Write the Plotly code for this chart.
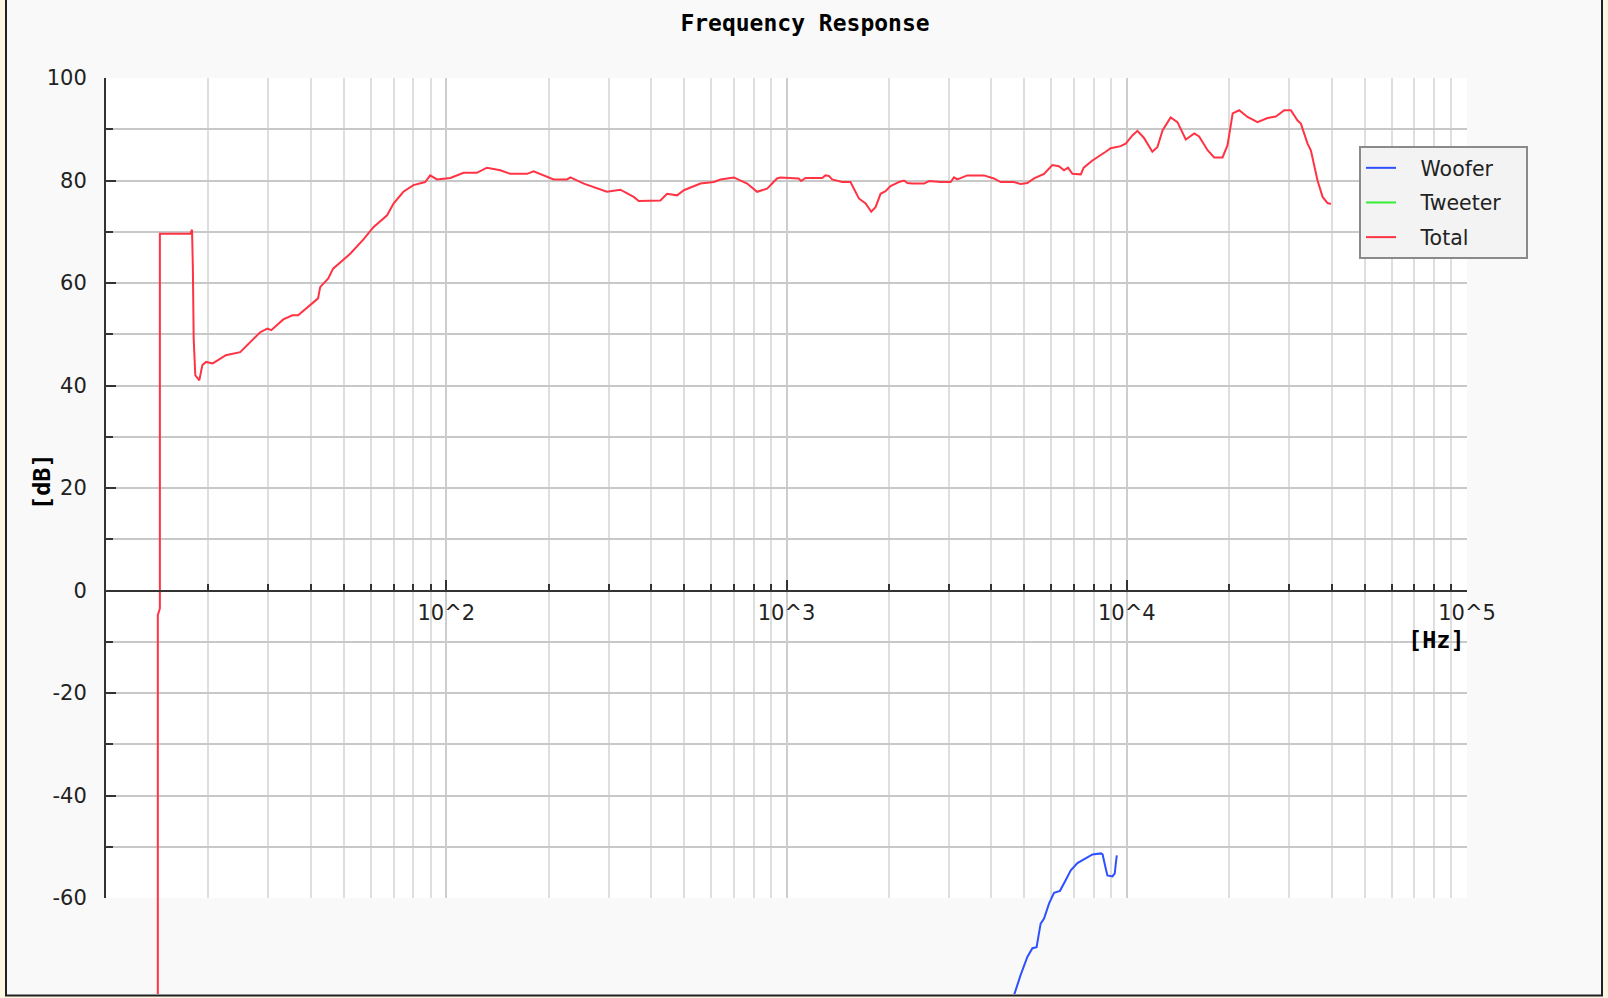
import plotly.graph_objects as go

# ---------------- data ----------------
title_text = "Frequency Response"
series_names = ["Woofer", "Tweeter", "Total"]
series_colors = ["#2f50ff", "#33ee33", "#ff3344"]

total_hz = [14.2, 14.2, 14.4, 14.4, 17.7, 17.9, 18.0, 18.1, 18.3, 18.8, 19.2, 19.7,
            20.6, 22.5, 24.8, 26.5, 28.4, 29.8, 30.6, 33.2, 35.3, 36.7, 39.3, 42.0,
            42.6, 45.0, 46.5, 52.2, 57.1, 61.1, 67.0, 70.0, 74.8, 80.1, 86.7, 89.7,
            93.9, 102.8, 112.5, 123, 131.7, 144.2, 154.3, 172.7, 180.6, 197.7, 206.9,
            226.5, 231.6, 253.7, 271.2, 296.6, 324.8, 355.6, 367.9, 425.9, 445.7,
            477.1, 499.2, 558.6, 611.4, 639.9, 700.3, 766.2, 819.5, 877, 938, 959,
            1086, 1104, 1137, 1273, 1302, 1332, 1362, 1457, 1542, 1632, 1708, 1774,
            1827, 1890, 1954, 2022, 2093, 2140, 2215, 2266, 2344, 2537, 2625, 2840,
            3037, 3106, 3177, 3399, 3805, 4070, 4260, 4662, 4879, 5103, 5339, 5714,
            6043, 6318, 6541, 6719, 6922, 7329, 7472, 7929, 8673, 8969, 9594, 9929,
            10390, 10750, 11240, 11890, 12300, 12750, 13460, 14090, 14910, 15790,
            16320, 17280, 18070, 19120, 19780, 20480, 21400, 22640, 24230, 25920,
            27430, 29040, 30360, 31770, 32490, 33990, 34760, 36370, 37630, 38930,
            39810]
total_db = [-100, -4.8, -3.5, 69.6, 69.6, 70.4, 63.1, 49.2, 42.0, 41.0, 44.0, 44.6,
            44.3, 45.9, 46.5, 48.5, 50.4, 51.1, 50.8, 52.9, 53.7, 53.7, 55.3, 57.0,
            59.2, 60.9, 62.8, 65.7, 68.5, 70.9, 73.2, 75.5, 77.8, 79.1, 79.7, 81.0,
            80.2, 80.5, 81.5, 81.5, 82.5, 82.0, 81.3, 81.3, 81.8, 80.7, 80.2,
            80.2, 80.6, 79.4, 78.7, 77.8, 78.2, 76.8, 76.0, 76.1, 77.4,
            77.1, 78.1, 79.4, 79.7, 80.2, 80.6, 79.4, 77.8, 78.4, 80.4, 80.6,
            80.4, 79.9, 80.5, 80.5, 81.0, 80.9, 80.2, 79.7, 79.7, 76.5, 75.5, 73.9,
            74.8, 77.4, 77.9, 78.9, 79.4, 79.7, 80.0, 79.5, 79.4, 79.4, 79.9, 79.7,
            79.7, 80.6, 80.2, 81.0, 81.0, 80.4, 79.7, 79.7, 79.3, 79.5, 80.4, 81.3,
            83.0, 82.8, 82.0, 82.5, 81.3, 81.2, 82.5, 83.9, 85.6, 86.3, 86.7, 87.2,
            88.8, 89.7, 88.3, 85.6, 86.5, 89.8, 92.3, 91.4, 88.0, 89.2,
            88.6, 85.9, 84.5, 84.5, 86.9, 93.1, 93.7, 92.4, 91.4, 92.2,
            92.5, 93.7, 93.7, 91.7, 91.1, 87.2, 85.9, 80.0, 76.8, 75.6,
            75.4]

woofer_hz = [4560, 4662, 4872, 5103, 5281, 5433, 5520, 5584, 5714, 5909, 6113, 6364,
             6619, 6847, 7163, 7579, 7929, 8398, 8492, 8678, 8774, 9080, 9222, 9285,
             9349]
woofer_db = [-82, -79, -75.1, -71.5, -69.8, -69.6, -66.9, -65.0, -64.0, -61.1, -59.0,
             -58.6, -56.5, -54.6, -53.2, -52.2, -51.5, -51.3, -51.5, -54.3, -55.6,
             -55.8, -55.2, -53.3, -51.7]

# the Tweeter series has no visible points in the chart
tweeter_hz = [None]
tweeter_db = [None]

x_tick_vals = [10, 100, 1000, 10000, 100000]
x_tick_text = ["", "10^2", "10^3", "10^4", "10^5"]
x_minor_mult = [2, 3, 4, 5, 6, 7, 8, 9]
x_decades = [10, 100, 1000, 10000]
y_major_vals = [-60, -40, -20, 0, 20, 40, 60, 80, 100]
y_minor_vals = [-50, -30, -10, 10, 30, 50, 70, 90]
y_tick_text = [str(v) for v in y_major_vals]
x_label = "[Hz]"
y_label = "[dB]"

# ---------------- layout geometry ----------------
W, H = 1608, 998
ML, MR, MT, MB = 106, 141, 78, 4
plot_w = W - ML - MR
plot_h = H - MT - MB
canvas_top, canvas_bottom = 100, -60
px_per_db = 820 / 160.0
y_min = canvas_top - plot_h / px_per_db
y_max = canvas_top
canvas_frac = (canvas_bottom - y_min) / (y_max - y_min)


def px_to_paper_x(px):
    return (px - ML) / plot_w


def px_to_paper_y(py):
    return (H - MB - py) / plot_h


x_minor_vals = [m * d for d in x_decades for m in x_minor_mult]

fig = go.Figure()
# grid subplot (xy) - holds only the grid / y axis
fig.add_trace(go.Scatter(x=[None], y=[None], xaxis="x", yaxis="y",
                         showlegend=False, hoverinfo="skip"))
traces = [(woofer_hz, woofer_db), (tweeter_hz, tweeter_db), (total_hz, total_db)]
for (xs, ys), name, col in zip(traces, series_names, series_colors):
    fig.add_trace(go.Scatter(
        x=xs, y=ys, mode="lines",
        name="\u00a0\u00a0\u00a0" + name + "\u00a0\u00a0\u00a0",
        legendgroup=name, xaxis="x2", yaxis="y2",
        line=dict(color=col, width=2), hoverinfo="skip"))

tick_font = dict(family="DejaVu Sans", size=21, color="#222222")
mono_bold = dict(family="DejaVu Sans Mono", size=23.5, color="#000000", weight="bold")

fig.update_layout(
    width=W, height=H, autosize=False,
    margin=dict(l=ML, r=MR, t=MT, b=MB, pad=0, autoexpand=False),
    paper_bgcolor="#fdf5e1",
    plot_bgcolor="rgba(0,0,0,0)",
    showlegend=True,
    title=dict(text=title_text, x=805 / W, xref="container", xanchor="center",
               y=1 - 23 / H, yref="container", yanchor="middle",
               font=dict(family="DejaVu Sans Mono", size=23, color="#000000",
                         weight="bold")),
    xaxis=dict(
        type="log", range=[1, 5], domain=[0, 1], anchor="y",
        showline=False, ticks="", showticklabels=False,
        tickvals=x_tick_vals,
        showgrid=True, gridcolor="#cdcdcd", gridwidth=2,
        minor=dict(tickvals=x_minor_vals, ticks="", showgrid=True,
                   gridcolor="#dedede", gridwidth=2),
        zeroline=False, fixedrange=True),
    yaxis=dict(
        range=[canvas_bottom, canvas_top], domain=[canvas_frac, 1], anchor="x",
        showline=True, linecolor="#333333", linewidth=2, zeroline=False,
        tickvals=y_major_vals, ticktext=y_tick_text, tickfont=tick_font,
        ticks="inside", ticklen=10, tickwidth=2, tickcolor="#333333",
        ticklabelstandoff=13,
        showgrid=True, gridcolor="#c8c8c8", gridwidth=2,
        minor=dict(tickvals=y_minor_vals, ticks="inside", ticklen=7, tickwidth=2,
                   tickcolor="#333333", showgrid=True, gridcolor="#c8c8c8",
                   gridwidth=2),
        fixedrange=True),
    xaxis2=dict(
        type="log", range=[1, 5], domain=[0, 1], anchor="free",
        position=(0 - y_min) / (y_max - y_min),
        showline=True, linecolor="#333333", linewidth=2,
        ticks="inside", ticklen=10, tickwidth=2, tickcolor="#333333",
        tickvals=x_tick_vals, ticktext=x_tick_text, tickfont=tick_font,
        ticklabelstandoff=3, showgrid=False,
        minor=dict(tickvals=x_minor_vals, ticks="inside", ticklen=6, tickwidth=2,
                   tickcolor="#333333", showgrid=False),
        zeroline=False, fixedrange=True),
    yaxis2=dict(
        range=[y_min, y_max], domain=[0, 1], anchor="x2", visible=False,
        showgrid=False, zeroline=False, fixedrange=True),
    legend=dict(
        x=px_to_paper_x(1359), y=px_to_paper_y(146), xanchor="left", yanchor="top",
        bgcolor="#f3f3f3", bordercolor="#8a8a8a", borderwidth=2,
        font=dict(family="DejaVu Sans", size=20.5, color="#222222"),
        traceorder="grouped", tracegroupgap=5),
)

shapes = [
    # outer frame
    dict(type="rect", xref="paper", yref="paper",
         x0=px_to_paper_x(6), x1=px_to_paper_x(1602),
         y0=px_to_paper_y(995.5), y1=px_to_paper_y(-5),
         fillcolor="#f9f9f9", line=dict(color="#222222", width=2), layer="below"),
    # white canvas of the grid subplot
    dict(type="rect", xref="x domain", yref="y domain", x0=0, x1=1, y0=0, y1=1,
         fillcolor="#ffffff", line=dict(width=0), layer="below"),
]
fig.update_layout(shapes=shapes)

fig.add_annotation(text=y_label, xref="paper", yref="paper",
                   x=px_to_paper_x(42), y=px_to_paper_y(482), textangle=-90,
                   showarrow=False, xanchor="center", yanchor="middle",
                   font=mono_bold)
fig.add_annotation(text=x_label, xref="paper", yref="paper",
                   x=px_to_paper_x(1436), y=px_to_paper_y(640),
                   showarrow=False, xanchor="center", yanchor="middle",
                   font=mono_bold)

fig.write_html("out.html",
               config={"displayModeBar": False, "responsive": False},
               post_script="document.body.style.margin='0px';")
